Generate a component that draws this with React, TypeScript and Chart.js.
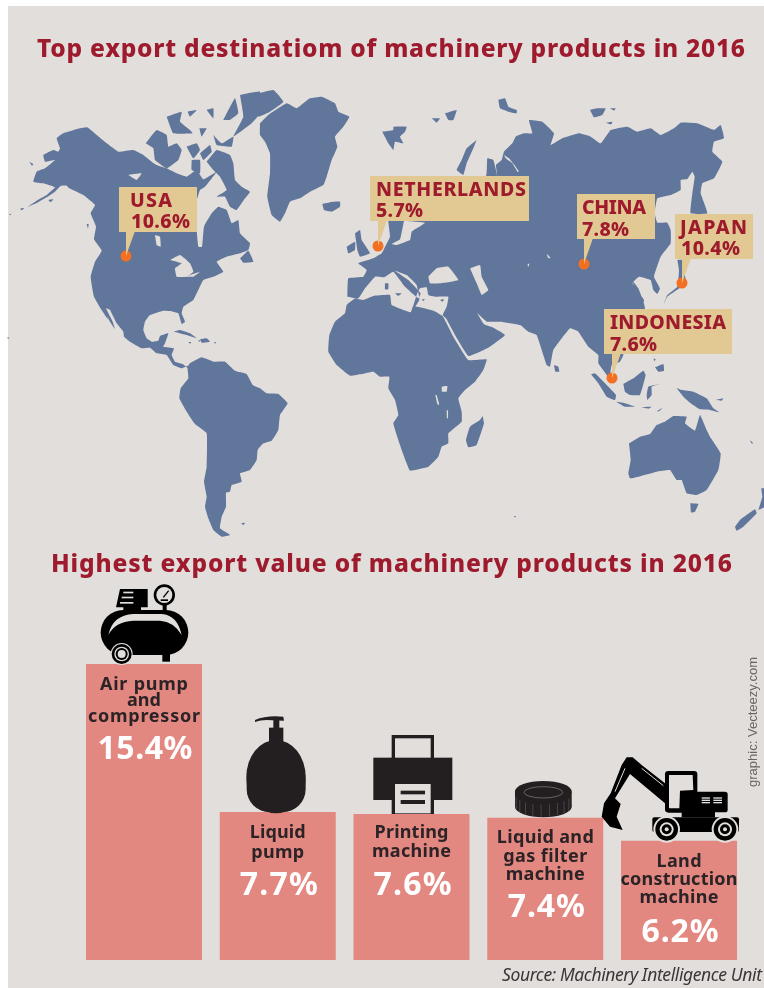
import React, { useEffect, useRef } from "react";
import { Chart, registerables } from "chart.js";

Chart.register(...registerables);

type P = [number, number];
const crop = (ox: number, oy: number, pts: P[]) => pts.map(([x, y]) => ({ x: ox + x / 3, y: oy + y / 3 }));
const C1 = (p: P[]) => crop(0, 80, p);
const C2 = (p: P[]) => crop(100, 300, p);
const C3 = (p: P[]) => crop(260, 80, p);
const C4 = (p: P[]) => crop(504, 80, p);
const C5 = (p: P[]) => crop(320, 280, p);
const C6 = (p: P[]) => crop(510, 280, p);

const northAmerica = [
  ...C1([[80,382],[112,368],[140,352],[165,335],[182,318],[200,317],[208,325],[250,345],[285,375],[272,400],[288,440],[282,478],[305,512],[285,545],[272,590],[282,650],[305,690],[325,720]]),
  ...C2([[5,0],[12,30],[30,65],[45,87],[38,65],[18,25],[30,30],[50,70],[70,95],[72,110],[90,125],[125,145],[150,143],[170,160],[200,165],[220,195],[245,205],[262,198],[268,208],[248,192],[225,185],[215,165],[222,145],[190,140],[195,130],[205,100],[180,108],[175,122],[155,125],[140,115],[130,90],[135,65],[150,45],[190,32],[210,33],[235,40],[245,72],[255,65],[245,40],[250,20],[280,0]]),
  ...C1([[610,600],[640,590],[670,575],[650,545],[680,530],[720,520],[745,510],[750,490],[720,460],[715,420],[695,430],[680,390],[655,380],[635,400],[612,440],[606,500],[595,500],[590,450],[585,380],[600,330],[615,320],[650,275],[610,298],[590,270],[560,290],[530,280],[500,265],[470,255],[455,245],[430,225],[400,210],[355,215],[320,190],[290,165],[262,142],[240,145],[190,160],[170,175],[180,205],[175,215],[160,210],[130,225],[135,245],[165,240],[135,265],[110,275],[100,305],[130,310],[165,322],[140,345],[110,362]]),
];
const arcticIslands = [
  C1([[437,190],[470,150],[500,165],[505,200],[530,190],[545,210],[535,240],[500,265],[465,240],[460,205]]),
  C1([[500,110],[545,95],[540,125],[570,150],[578,160],[520,160]]),
  C1([[563,95],[590,90],[570,110]]),
  C1([[620,90],[640,85],[640,115]]),
  C1([[598,145],[620,145],[605,170]]),
  C1([[560,200],[590,190],[600,210],[580,235]]),
  C1([[600,220],[630,195],[635,215],[610,240]]),
  C1([[640,165],[665,190],[700,170],[695,200],[650,195]]),
  C1([[670,120],[705,55],[715,100],[690,120]]),
  C1([[720,45],[780,35],[780,100],[755,130],[700,170],[730,110]]),
  C1([[575,240],[600,240],[600,280],[575,270]]),
  C1([[620,245],[650,210],[690,225],[700,250],[705,300],[725,320],[750,335],[735,355],[710,390],[690,380],[675,350],[650,350],[680,330],[660,290],[640,270]]),
  C1([[720,535],[745,512],[760,545],[730,548]]),
  C1([[88,245],[100,252],[96,257]]),
  C1([[145,360],[160,358],[152,367]]),
  C1([[60,386],[72,384],[66,391]]),
  C1([[27,403],[34,401],[30,406]]),
  C1([[260,432],[266,432],[264,446]]),
  crop(0, 0, [[22,1012],[28,1014],[24,1017]]),
];
const greenland = C3([[0,130],[25,105],[80,70],[110,85],[130,70],[150,55],[185,50],[225,70],[235,95],[268,110],[250,140],[225,170],[232,200],[215,240],[200,290],[190,315],[150,335],[120,355],[90,365],[75,400],[60,425],[35,405],[22,350],[30,280],[30,220],[15,185],[0,165]]);
const ellesmere = C3([[-5,40],[40,30],[70,65],[30,95],[-5,110]]);
const northIslands = [
  C3([[187,372],[215,366],[240,365],[240,380],[215,395],[192,390]]),
  C3([[367,155],[400,150],[400,140],[440,140],[435,155],[420,170],[430,190],[405,185],[400,210],[385,190]]),
  C3([[515,115],[540,115],[530,128]]),
  C3([[555,100],[590,90],[580,120],[565,120]]),
  C3([[650,180],[620,205],[605,240],[590,270],[610,285],[620,250],[640,205]]),
  C3([[715,60],[735,55],[745,80],[770,90],[770,100],[745,95],[720,85]]),
  C4([[258,90],[280,85],[305,85],[295,105],[270,112]]),
  C4([[318,85],[335,85],[330,92]]),
  C4([[305,128],[325,125],[322,133]]),
  C3([[285,460],[300,450],[305,480],[330,520],[300,530],[292,510]]),
  C3([[260,500],[285,485],[285,510],[265,520]]),
  C3([[375,610],[385,610],[385,628],[375,628]]),
  C3([[405,640],[425,640],[415,648]]),
  C5([[305,58],[315,58],[310,63]]),
  C5([[360,60],[372,58],[368,65]]),
];
const eurasia = [
  ...C3([[262,650],[295,655],[315,625],[345,590],[372,592],[400,575],[435,620],[475,655],[482,640],[445,600],[405,572],[440,585],[470,615],[478,660],[455,695]]),
  ...C5([[290,45],[300,25],[320,22],[325,45],[345,50],[385,50],[380,80],[368,105],[378,115],[405,165],[445,228],[480,215],[510,200],[555,165],[520,143],[492,133],[472,100],[500,125],[540,125],[600,135],[625,155],[650,165],[680,255],[690,260],[700,210],[750,145]]),
  ...C6([[205,155],[235,200],[265,225],[265,250],[290,285],[300,305],[300,290],[305,255],[330,245],[340,225],[345,160],[405,85],[385,25],[365,0]]),
  ...C4([[415,680],[420,660],[385,610],[405,590],[440,600],[448,630],[460,642],[468,625],[450,590],[470,530],[500,490],[500,450],[490,428],[460,428],[452,400],[460,355],[500,345],[530,330],[530,300],[550,297],[565,275],[572,290],[565,340],[560,400],[610,400],[590,340],[595,310],[630,295],[655,245],[625,215],[630,185],[660,175],[650,135],[630,150],[580,130],[530,128],[510,145],[470,165],[440,145],[400,155],[370,140],[320,150],[290,190],[260,170],[225,160],[175,175],[140,195],[150,160],[115,125],[75,120],[85,160],[60,160],[35,170],[25,190],[0,215]]),
  ...C3([[725,240],[708,255],[712,288],[700,240],[682,235],[678,288],[600,300],[385,300],[385,425],[390,470],[378,495],[365,520],[340,535],[295,550],[320,570],[310,590],[265,595]]),
];
const japan = C4([[520,540],[535,540],[545,610],[490,650],[480,670],[490,645],[520,620],[525,570]]);
const africa = C5([[105,55],[130,60],[160,48],[210,45],[215,75],[272,97],[280,78],[340,92],[368,108],[400,170],[445,240],[500,238],[490,270],[465,305],[435,330],[415,355],[425,395],[425,425],[385,460],[385,490],[365,500],[355,530],[325,560],[270,572],[260,550],[240,495],[220,430],[235,405],[225,360],[205,325],[208,290],[180,290],[160,275],[125,282],[90,287],[50,255],[25,215],[28,165],[45,125],[75,100],[80,75]]);
const madagascar = C5([[488,408],[492,430],[470,495],[445,502],[438,480],[450,440],[480,420]]);
const sriLanka = C5([[702,255],[715,260],[718,275],[706,275]]);
const southAmerica = C2([[262,200],[270,190],[305,172],[340,185],[375,185],[405,212],[440,222],[458,255],[480,265],[500,280],[535,282],[563,310],[540,345],[535,390],[515,422],[490,430],[473,450],[470,480],[450,510],[420,520],[425,545],[395,555],[390,575],[378,578],[378,620],[365,650],[360,685],[390,705],[365,710],[340,690],[325,655],[315,620],[320,590],[312,545],[320,500],[320,400],[285,372],[260,335],[238,295],[242,265],[265,235]]);
const caribbean = [
  C2([[222,95],[240,90],[270,100],[290,115],[260,105]]),
  C2([[300,118],[320,115],[330,125],[305,128]]),
  C2([[265,126],[274,126],[270,131]]),
  C2([[295,121],[301,121],[298,126]]),
  C2([[342,126],[349,127],[345,131]]),
  C2([[423,670],[435,668],[430,675]]),
];
const australia = C6([[357,490],[390,470],[420,462],[440,435],[465,425],[490,408],[530,410],[525,430],[555,452],[570,405],[590,450],[600,470],[632,520],[625,570],[590,630],[560,645],[530,640],[515,600],[500,600],[480,570],[440,575],[385,590],[360,595],[355,580],[362,540]]);
const asiaPacificIslands = [
  C6([[243,283],[255,280],[290,315],[318,345],[315,360],[290,350],[265,310]]),
  C6([[318,365],[340,368],[375,380],[345,380]]),
  C6([[340,312],[370,295],[400,272],[407,285],[390,345],[360,345],[345,335]]),
  C6([[410,345],[415,320],[450,312],[425,320],[425,345],[412,360]]),
  C6([[435,262],[460,252],[462,272],[445,275]]),
  C6([[430,235],[437,238],[434,244]]),
  C6([[500,325],[515,330],[550,335],[590,355],[610,385],[628,397],[600,390],[570,388],[545,372],[520,350]]),
  C6([[442,392],[458,383],[445,395]]),
  C6([[618,360],[640,355],[635,362]]),
  C6([[541,670],[565,672],[555,695],[543,697]]),
  C6([[675,740],[690,720],[735,688],[740,700],[700,740],[680,752]]),
  C6([[745,690],[757,650],[754,625],[764,625],[764,680]]),
  C6([[720,480],[730,490],[724,490]]),
  C6([[393,381],[425,380],[415,386]]),
  C6([[12,708],[18,708],[15,713]]),
];
const waters = [
  C3([[432,422],[495,428],[470,445],[455,455],[450,480],[410,495],[395,492],[420,478]]),
  C3([[505,590],[530,565],[565,560],[595,600],[540,610],[510,610]]),
  C3([[630,565],[660,555],[665,590],[685,630],[665,645],[650,610]]),
  C1([[510,540],[540,525],[570,550],[580,575],[560,590],[530,590],[525,565],[545,550]]),
  C1([[555,590],[600,575],[580,590]]),
  C1([[465,465],[480,470],[482,500],[470,495]]),
  C1([[385,285],[425,280],[410,300]]),
  C5([[365,320],[382,318],[380,335],[366,335]]),
  C5([[346,345],[350,345],[358,375],[352,372]]),
  C5([[380,390],[384,392],[384,415],[381,415]]),
  C4([[0,225],[15,235],[35,260],[45,275],[40,275],[25,250],[5,235]]),
  C4([[128,522],[135,528],[140,535],[132,533]]),
  C4([[70,555],[76,550],[74,560]]),
];

const destinations = ["USA", "NETHERLANDS", "CHINA", "JAPAN", "INDONESIA"];
const destinationShares = ["10.6%", "5.7%", "7.8%", "10.4%", "7.6%"];
const pinX = [126, 378, 584, 682, 612];
const pinY = [256, 246, 264, 283, 378];

const productLines = [
  ["Air pump", "and", "compressor"],
  ["Liquid", "pump"],
  ["Printing", "machine"],
  ["Liquid and", "gas filter", "machine"],
  ["Land", "construction", "machine"],
];
const productNames = ["Air pump and compressor", "Liquid pump", "Printing machine", "Liquid and gas filter machine", "Land construction machine"];
const productShares = [15.4, 7.7, 7.6, 7.4, 6.2];

const TITLE_RED = "#9E1B2D";
const FONT = '"Noto Sans"';

function fit(ctx: CanvasRenderingContext2D, s: string, font: string, left: number, base: number, w: number, color: string) {
  ctx.font = font;
  ctx.fillStyle = color;
  ctx.textAlign = "left";
  ctx.textBaseline = "alphabetic";
  (ctx as any).letterSpacing = "0px";
  const natural = ctx.measureText(s).width;
  (ctx as any).letterSpacing = (w - natural) / Math.max(1, s.length - 1) + "px";
  ctx.fillText(s, left, base);
  (ctx as any).letterSpacing = "0px";
}

// label boxes: left, top, right, bottom; pointer left and right on the box bottom
const boxLayout = [
  [119, 187, 197, 232, 126, 135],
  [370, 176, 529, 221, 378, 387],
  [577, 194, 655, 239, 584, 593],
  [675, 214, 753, 259, 682, 691],
  [604, 309, 732, 354, 612, 621],
];
const textLayout = [
  [130, 207, 42, 131, 228, 59],
  [376, 196, 150, 376, 217, 47],
  [582, 214, 64, 582, 236, 47],
  [680, 234, 67, 681, 255, 59],
  [610, 329, 116, 610, 351, 47],
];

const mapPlugin = {
  id: "mapLabels",
  afterDatasetsDraw(chart: any) {
    const ctx: CanvasRenderingContext2D = chart.ctx;
    const sx = chart.scales.x, sy = chart.scales.y;
    ctx.save();
    fit(ctx, "Top export destinatiom of machinery products in 2016", `800 24.5px ${FONT}`, 37, 57, 708, TITLE_RED);
    destinations.forEach((name, i) => {
      const [l, t, r, b, p1, p2] = boxLayout[i];
      ctx.fillStyle = "#E2C994";
      ctx.fillRect(l, t, r - l, b - t);
      ctx.beginPath();
      ctx.moveTo(p1, b - 1);
      ctx.lineTo(p2, b - 1);
      ctx.lineTo(sx.getPixelForValue(pinX[i]), sy.getPixelForValue(pinY[i]));
      ctx.closePath();
      ctx.fill();
      const [x1, y1, w1, x2, y2, w2] = textLayout[i];
      fit(ctx, name, `800 19.5px ${FONT}`, x1, y1, w1, TITLE_RED);
      fit(ctx, destinationShares[i], `800 19.5px ${FONT}`, x2, y2, w2, TITLE_RED);
    });
    ctx.restore();
  },
};

const BG = "#E2DEDC";
const INK = "#231F20";

function drawIcons(ctx: CanvasRenderingContext2D) {
  const poly = (pts: number[][], color: string) => {
    ctx.fillStyle = color;
    ctx.beginPath();
    pts.forEach(([x, y], i) => (i ? ctx.lineTo(x, y) : ctx.moveTo(x, y)));
    ctx.closePath();
    ctx.fill();
  };
  const disc = (x: number, y: number, r: number, color: string) => {
    ctx.fillStyle = color;
    ctx.beginPath();
    ctx.arc(x, y, r, 0, Math.PI * 2);
    ctx.fill();
  };
  const rect = (a: number, b: number, c: number, d: number, color: string) => {
    ctx.fillStyle = color;
    ctx.fillRect(a, b, c - a, d - b);
  };

  // compressor
  ctx.save();
  ctx.translate(70, 570);
  ctx.scale(1 / 3, 1 / 3);
  poly([[150, 57], [233, 57], [233, 112], [138, 112]], "#000");
  rect(160, 65, 190, 70, BG); rect(155, 80, 190, 85, BG); rect(150, 96, 190, 101, BG);
  rect(160, 110, 213, 125, "#000");
  rect(278, 100, 290, 125, "#000");
  disc(283, 75, 32, "#000");
  disc(283, 75, 24, BG);
  ctx.strokeStyle = "#000"; ctx.lineWidth = 4;
  ctx.beginPath(); ctx.moveTo(280, 82); ctx.lineTo(296, 62); ctx.stroke();
  rect(272, 88, 294, 93, "#000");
  ctx.fillStyle = "#000";
  ctx.beginPath();
  ctx.roundRect(92, 120, 263, 135, 68);
  ctx.fill();
  ctx.fillStyle = BG;
  ctx.beginPath();
  ctx.moveTo(115, 195);
  ctx.quadraticCurveTo(128, 135, 190, 132);
  ctx.lineTo(275, 132);
  ctx.quadraticCurveTo(322, 135, 335, 195);
  ctx.quadraticCurveTo(312, 155, 270, 152);
  ctx.lineTo(190, 152);
  ctx.quadraticCurveTo(135, 155, 115, 195);
  ctx.fill();
  rect(277, 250, 300, 275, "#000");
  disc(155, 252, 33, BG);
  disc(155, 252, 30, "#000");
  disc(155, 252, 22, BG);
  disc(155, 252, 18, "#000");
  disc(155, 252, 12, BG);
  // bottle
  ctx.fillStyle = INK;
  ctx.beginPath();
  ctx.ellipse(618, 620, 89, 110, 0, 0, Math.PI * 2);
  ctx.fill();
  ctx.beginPath();
  ctx.roundRect(530, 560, 177, 167, 70);
  ctx.fill();
  rect(597, 473, 640, 525, INK);
  rect(610, 445, 628, 475, INK);
  ctx.beginPath();
  ctx.moveTo(555, 450);
  ctx.quadraticCurveTo(590, 435, 640, 440);
  ctx.lineTo(642, 452);
  ctx.lineTo(590, 450);
  ctx.quadraticCurveTo(570, 450, 555, 456);
  ctx.fill();
  ctx.restore();

  // printer, filter, excavator
  ctx.save();
  ctx.translate(340, 700);
  ctx.scale(1 / 3, 1 / 3);
  ctx.strokeStyle = INK; ctx.lineWidth = 10;
  ctx.strokeRect(160, 110, 117, 70);
  rect(100, 173, 337, 300, INK);
  rect(155, 252, 282, 342, INK);
  rect(165, 252, 272, 340, BG);
  rect(182, 272, 255, 283, INK);
  rect(182, 300, 255, 312, INK);

  ctx.fillStyle = INK;
  ctx.beginPath();
  ctx.ellipse(610, 320, 85, 32, 0, 0, Math.PI * 2);
  ctx.fill();
  rect(525, 275, 695, 320, INK);
  ctx.beginPath();
  ctx.ellipse(610, 275, 85, 32, 0, 0, Math.PI * 2);
  ctx.fill();
  ctx.strokeStyle = "#8a8685"; ctx.lineWidth = 2;
  ctx.beginPath();
  ctx.ellipse(610, 277, 58, 17, 0, 0, Math.PI * 2);
  ctx.stroke();
  ctx.strokeStyle = "#5c5858"; ctx.lineWidth = 2;
  for (let a = 0.15; a < Math.PI; a += 0.3) {
    const x = 610 + 85 * Math.cos(a), y = 282 + 32 * Math.sin(a);
    ctx.beginPath(); ctx.moveTo(x, y); ctx.lineTo(x, y + 36); ctx.stroke();
  }

  poly([[975, 250], [905, 195], [878, 172], [860, 172], [845, 195], [812, 280], [792, 310], [785, 350], [810, 380], [848, 390], [830, 350], [842, 312], [825, 295], [870, 222], [975, 310]], "#000");
  ctx.strokeStyle = BG; ctx.lineWidth = 3;
  ctx.beginPath(); ctx.moveTo(905, 205); ctx.lineTo(970, 257); ctx.stroke();
  ctx.beginPath(); ctx.moveTo(855, 205); ctx.lineTo(825, 275); ctx.stroke();
  ctx.fillStyle = "#000";
  ctx.beginPath(); ctx.roundRect(975, 213, 97, 125, 10); ctx.fill();
  poly([[987, 225], [1058, 225], [1060, 270], [1020, 272], [1018, 325], [987, 325]], BG);
  ctx.fillStyle = "#000";
  ctx.beginPath(); ctx.roundRect(1020, 275, 143, 62, 8); ctx.fill();
  rect(1085, 292, 1110, 296, BG); rect(1085, 299, 1110, 303, BG); rect(1085, 306, 1110, 310, BG);
  rect(1120, 292, 1146, 296, BG); rect(1120, 299, 1146, 303, BG); rect(1120, 306, 1146, 310, BG);
  rect(1025, 335, 1125, 352, "#000");
  ctx.fillStyle = "#000";
  ctx.beginPath(); ctx.roundRect(937, 352, 260, 44, 6); ctx.fill();
  [980, 1155].forEach((x) => {
    disc(x, 388, 40, BG);
    disc(x, 388, 34, "#000");
    disc(x, 388, 21, BG);
    disc(x, 388, 15, "#000");
    disc(x, 388, 6, BG);
  });
  ctx.restore();
}

// text baselines (page pixels) and widths of the lines inside each bar
const lineBase = [[690, 706, 722], [838, 858], [838, 857], [843, 862, 880], [867, 885, 903]];
const lineWidth = [[88, 34, 112], [56, 53], [74, 79], [97, 84, 79], [45, 117, 79]];
const shareBase = [759, 895, 895, 917, 942];
const shareWidth = [95, 78, 78, 77, 77];
const OFFSET = 540;

const barPlugin = {
  id: "barLabels",
  afterDatasetsDraw(chart: any) {
    const ctx: CanvasRenderingContext2D = chart.ctx;
    const bars = chart.getDatasetMeta(0).data;
    ctx.save();
    fit(ctx, "Highest export value of machinery products in 2016", `800 24.5px ${FONT}`, 51, 572 - OFFSET, 681, TITLE_RED);
    productLines.forEach((lines, i) => {
      const cx = bars[i].x;
      lines.forEach((s, j) => {
        const w = lineWidth[i][j];
        fit(ctx, s, `bold 18px ${FONT}`, cx - w / 2, lineBase[i][j] - OFFSET, w, "#2B2326");
      });
      const w = shareWidth[i];
      fit(ctx, productShares[i].toFixed(1) + "%", `bold 32px ${FONT}`, cx - w / 2 + 1, shareBase[i] - OFFSET, w, "#FFFFFF");
    });
    fit(ctx, "Source: Machinery Intelligence Unit", `italic 17.5px ${FONT}`, 502, 981 - OFFSET, 260, "#3A3536");
    ctx.save();
    ctx.translate(757, 787 - OFFSET);
    ctx.rotate(-Math.PI / 2);
    fit(ctx, "graphic: Vecteezy.com", '13px "Liberation Sans"', 0, 0, 130, "#6A6667");
    ctx.restore();
    ctx.translate(0, -OFFSET);
    drawIcons(ctx);
    ctx.restore();
  },
};

export default function App() {
  const mapRef = useRef<HTMLCanvasElement>(null);
  const barRef = useRef<HTMLCanvasElement>(null);

  useEffect(() => {
    document.body.style.margin = "0";
    const land = [northAmerica, ...arcticIslands, greenland, ellesmere, ...northIslands, eurasia, japan, africa, madagascar, sriLanka, southAmerica, ...caribbean, australia, ...asiaPacificIslands];
    const polygon = (pts: { x: number; y: number }[], color: string, order: number, label: string) => ({
      type: "scatter" as const,
      label,
      data: [...pts, pts[0]],
      showLine: true,
      fill: "shape",
      backgroundColor: color,
      borderWidth: 0,
      borderColor: "rgba(0,0,0,0)",
      pointRadius: 0,
      tension: 0.1,
      order,
    });
    const mapChart = new Chart(mapRef.current!, {
      type: "scatter",
      data: {
        datasets: [
          {
            label: "Top export destinations",
            data: pinX.map((x, i) => ({ x, y: pinY[i] })),
            pointRadius: 5.5,
            pointBackgroundColor: "#F36F21",
            pointBorderWidth: 0,
            showLine: false,
            order: 0,
          },
          ...waters.map((w, i) => polygon(w, BG, 1, "water " + i)),
          ...land.map((l, i) => polygon(l, "#61769B", 2, "land " + i)),
        ] as any,
      },
      options: {
        animation: false,
        responsive: false,
        events: [],
        layout: { padding: 0, autoPadding: false },
        plugins: { legend: { display: false }, tooltip: { enabled: false }, title: { display: false } },
        scales: {
          x: { type: "linear", min: 0, max: 764, display: false },
          y: { type: "linear", min: 0, max: 540, reverse: true, display: false },
        },
      },
      plugins: [mapPlugin],
    });
    const barChart = new Chart(barRef.current!, {
      type: "bar",
      data: {
        labels: productNames,
        datasets: [
          {
            label: "Share of export value (%)",
            data: productShares,
            backgroundColor: "#E38881",
            borderWidth: 0,
            barPercentage: 0.8673,
            categoryPercentage: 1,
          },
        ],
      },
      options: {
        animation: false,
        responsive: false,
        events: [],
        layout: { padding: { left: 77.1, right: 18.1, top: 35.6, bottom: 28 }, autoPadding: false },
        plugins: { legend: { display: false }, tooltip: { enabled: false } },
        scales: {
          x: { display: false, grid: { display: false } },
          y: { display: false, min: 0, max: 20, grid: { display: false } },
        },
      },
      plugins: [barPlugin],
    });
    return () => {
      mapChart.destroy();
      barChart.destroy();
    };
  }, []);

  return (
    <div style={{ position: "relative", width: 764, height: 988, background: "#fff", overflow: "hidden" }}>
      <div style={{ position: "absolute", left: 8, top: 6, width: 756, height: 982, background: BG }} />
      <canvas ref={mapRef} width={764} height={540} style={{ position: "absolute", left: 0, top: 0, width: 764, height: 540 }} />
      <canvas ref={barRef} width={764} height={448} style={{ position: "absolute", left: 0, top: 540, width: 764, height: 448 }} />
    </div>
  );
}
